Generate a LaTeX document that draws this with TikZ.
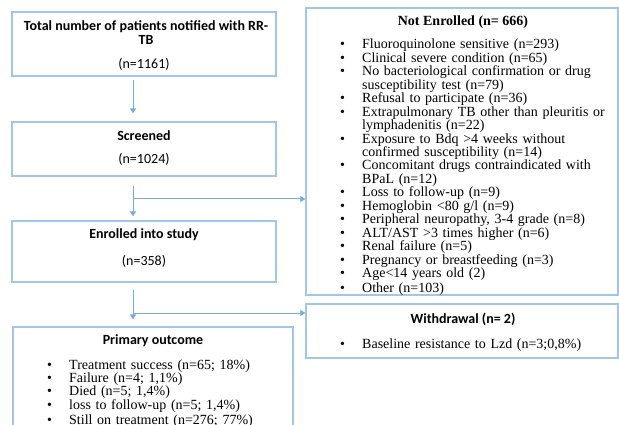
\documentclass[tikz,border=0pt]{standalone}
\usepackage{fontspec}
\setmainfont{Liberation Serif}
\newfontfamily\calibri{Carlito}
\usetikzlibrary{arrows.meta}
\definecolor{boxline}{RGB}{160,198,234}
\definecolor{arrline}{RGB}{118,172,226}
\newcommand{\bul}[1]{\par\hangindent=22pt\hangafter=1\noindent\strut\makebox[22pt][l]{\textbullet}#1}
\newcommand{\tightlines}{\baselineskip=13.45pt\lineskiplimit=-20pt\lineskip=0pt}
\begin{document}
\begin{tikzpicture}[x=1pt,y=-1pt,
  box/.style={draw=boxline, line width=1.2pt, inner sep=0pt},
  arr/.style={draw=arrline, line width=1pt, -{Triangle[length=5pt,width=6pt]}},
  ttl/.style={font=\calibri\bfseries\fontsize{14}{14}\selectfont, inner sep=0pt, align=center},
  ttlr/.style={font=\bfseries\fontsize{14}{14}\selectfont, inner sep=0pt},
  cnt/.style={font=\calibri\fontsize{14}{14}\selectfont, inner sep=0pt},
  lst/.style={font=\fontsize{14}{13.45}\selectfont, inner sep=0pt, anchor=north west, text width=265pt, align=left}]
  \useasboundingbox (0,0) rectangle (619,425);
  \clip (0,0) rectangle (619,425);
  % left column
  \node[box, minimum width=264, minimum height=64] (total) at (144,44) {};
  \node[ttl] (totalt) at (146,32.5) {Total number of patients notified with RR-\\TB};
  \node[cnt] (totaln) at (144,64) {(n=1161)};
  \node[box, minimum width=264, minimum height=54] (screened) at (144,149) {};
  \node[ttl] (screenedt) at (144,135.5) {Screened};
  \node[cnt] (screenedn) at (144,159.5) {(n=1024)};
  \node[box, minimum width=264, minimum height=61] (enrolled) at (144,251.5) {};
  \node[ttl] (enrolledt) at (144,235) {Enrolled into study};
  \node[cnt] (enrolledn) at (144,261.5) {(n=358)};
  \node[box, minimum width=280, minimum height=113] (primary) at (153,383.5) {};
  \node[ttl] (primaryt) at (153,341) {Primary outcome};
  \node[lst] (primaryl) at (47,355.4) {\tightlines
    \bul{Treatment success (n=65; 18\%)}
    \bul{Failure (n=4; 1,1\%)}
    \bul{Died (n=5; 1,4\%)}
    \bul{loss to follow-up (n=5; 1,4\%)}
    \bul{Still on treatment (n=276; 77\%)}};
  % right column
  \node[box, minimum width=312, minimum height=287] (notenr) at (462,151.5) {};
  \node[ttlr] (notenrt) at (463,22) {Not Enrolled (n= 666)};
  \node[lst] (notenrl) at (340,35.3) {\tightlines
    \bul{Fluoroquinolone sensitive (n=293)}
    \bul{Clinical severe condition (n=65)}
    \bul{No bacteriological confirmation or drug\newline susceptibility test (n=79)}
    \bul{Refusal to participate (n=36)}
    \bul{Extrapulmonary TB other than pleuritis or\newline lymphadenitis (n=22)}
    \bul{Exposure to Bdq >4 weeks without\newline confirmed susceptibility (n=14)}
    \bul{Concomitant drugs contraindicated with\newline BPaL (n=12)}
    \bul{Loss to follow-up (n=9)}
    \bul{Hemoglobin <80 g/l (n=9)}
    \bul{Peripheral neuropathy, 3-4 grade (n=8)}
    \bul{ALT/AST >3 times higher (n=6)}
    \bul{Renal failure (n=5)}
    \bul{Pregnancy or breastfeeding (n=3)}
    \bul{Age<14 years old (2)}
    \bul{Other (n=103)}};
  \node[box, minimum width=312, minimum height=54] (withdr) at (462,331) {};
  \node[ttl] (withdrt) at (463,319) {Withdrawal (n= 2)};
  \node[lst] (withdrl) at (340,334.6) {\tightlines\bul{Baseline resistance to Lzd (n=3;0,8\%)}};
  % connectors
  \coordinate (spine) at (133,0);
  \coordinate (br1) at (133,199);
  \coordinate (br2) at (133,313);
  \draw[arr, shorten <=3pt, shorten >=8pt] (total.south -| spine) -- (screened.north -| spine);
  \draw[arr, shorten <=9pt, shorten >=4pt] (screened.south -| spine) -- (enrolled.north -| spine);
  \draw[arr, shorten <=7pt, shorten >=7pt] (enrolled.south -| spine) -- (primary.north -| spine);
  \draw[arr] (br1) -- (br1 -| notenr.west);
  \draw[arr] (br2) -- (br2 -| withdr.west);
\end{tikzpicture}
\end{document}
